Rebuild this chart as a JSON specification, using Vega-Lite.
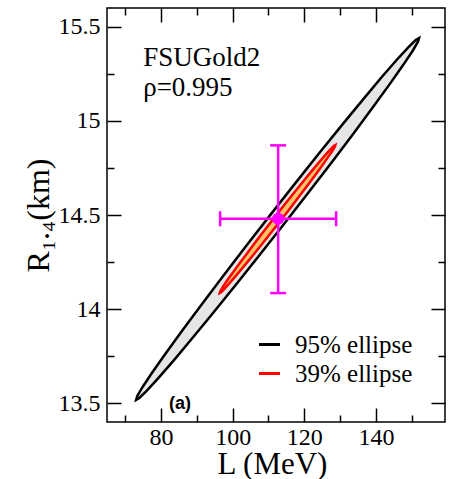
{
  "$schema": "https://vega.github.io/schema/vega-lite/v6.json",
  "width": 338,
  "height": 414,
  "autosize": {"type": "none"},
  "padding": {"left": 107, "top": 8, "right": 22, "bottom": 57},
  "config": {
    "view": {"stroke": "black", "strokeWidth": 1.5},
    "axis": {"domain": false, "grid": false, "tickColor": "black", "tickWidth": 1.5, "labelFont": "Liberation Serif", "labelFontSize": 24, "labelColor": "black", "titleFont": "Liberation Serif", "titleFontWeight": "normal", "titleColor": "black", "format": "~r"}
  },
  "datasets": {
    "e95": [
      {"o": 0, "L": 152.04, "R": 15.440, "s": "95% ellipse"},
      {"o": 1, "L": 151.75, "R": 15.421, "s": "95% ellipse"},
      {"o": 2, "L": 150.28, "R": 15.373, "s": "95% ellipse"},
      {"o": 3, "L": 147.65, "R": 15.298, "s": "95% ellipse"},
      {"o": 4, "L": 143.96, "R": 15.198, "s": "95% ellipse"},
      {"o": 5, "L": 139.31, "R": 15.076, "s": "95% ellipse"},
      {"o": 6, "L": 133.85, "R": 14.936, "s": "95% ellipse"},
      {"o": 7, "L": 127.74, "R": 14.782, "s": "95% ellipse"},
      {"o": 8, "L": 121.17, "R": 14.619, "s": "95% ellipse"},
      {"o": 9, "L": 114.34, "R": 14.452, "s": "95% ellipse"},
      {"o": 10, "L": 107.46, "R": 14.286, "s": "95% ellipse"},
      {"o": 11, "L": 100.72, "R": 14.125, "s": "95% ellipse"},
      {"o": 12, "L": 94.35, "R": 13.975, "s": "95% ellipse"},
      {"o": 13, "L": 88.53, "R": 13.841, "s": "95% ellipse"},
      {"o": 14, "L": 83.44, "R": 13.725, "s": "95% ellipse"},
      {"o": 15, "L": 79.23, "R": 13.633, "s": "95% ellipse"},
      {"o": 16, "L": 76.04, "R": 13.567, "s": "95% ellipse"},
      {"o": 17, "L": 73.95, "R": 13.528, "s": "95% ellipse"},
      {"o": 18, "L": 73.04, "R": 13.518, "s": "95% ellipse"},
      {"o": 19, "L": 73.33, "R": 13.537, "s": "95% ellipse"},
      {"o": 20, "L": 74.80, "R": 13.585, "s": "95% ellipse"},
      {"o": 21, "L": 77.43, "R": 13.660, "s": "95% ellipse"},
      {"o": 22, "L": 81.12, "R": 13.760, "s": "95% ellipse"},
      {"o": 23, "L": 85.77, "R": 13.882, "s": "95% ellipse"},
      {"o": 24, "L": 91.23, "R": 14.022, "s": "95% ellipse"},
      {"o": 25, "L": 97.34, "R": 14.176, "s": "95% ellipse"},
      {"o": 26, "L": 103.91, "R": 14.339, "s": "95% ellipse"},
      {"o": 27, "L": 110.74, "R": 14.506, "s": "95% ellipse"},
      {"o": 28, "L": 117.62, "R": 14.672, "s": "95% ellipse"},
      {"o": 29, "L": 124.36, "R": 14.833, "s": "95% ellipse"},
      {"o": 30, "L": 130.73, "R": 14.983, "s": "95% ellipse"},
      {"o": 31, "L": 136.55, "R": 15.117, "s": "95% ellipse"},
      {"o": 32, "L": 141.64, "R": 15.233, "s": "95% ellipse"},
      {"o": 33, "L": 145.85, "R": 15.325, "s": "95% ellipse"},
      {"o": 34, "L": 149.04, "R": 15.391, "s": "95% ellipse"},
      {"o": 35, "L": 151.13, "R": 15.430, "s": "95% ellipse"}
    ],
    "e39": [
      {"o": 0, "L": 128.68, "R": 14.872, "s": "39% ellipse"},
      {"o": 1, "L": 128.56, "R": 14.864, "s": "39% ellipse"},
      {"o": 2, "L": 127.96, "R": 14.844, "s": "39% ellipse"},
      {"o": 3, "L": 126.88, "R": 14.814, "s": "39% ellipse"},
      {"o": 4, "L": 125.37, "R": 14.773, "s": "39% ellipse"},
      {"o": 5, "L": 123.48, "R": 14.723, "s": "39% ellipse"},
      {"o": 6, "L": 121.25, "R": 14.666, "s": "39% ellipse"},
      {"o": 7, "L": 118.75, "R": 14.603, "s": "39% ellipse"},
      {"o": 8, "L": 116.07, "R": 14.536, "s": "39% ellipse"},
      {"o": 9, "L": 113.28, "R": 14.468, "s": "39% ellipse"},
      {"o": 10, "L": 110.46, "R": 14.400, "s": "39% ellipse"},
      {"o": 11, "L": 107.71, "R": 14.334, "s": "39% ellipse"},
      {"o": 12, "L": 105.11, "R": 14.273, "s": "39% ellipse"},
      {"o": 13, "L": 102.73, "R": 14.218, "s": "39% ellipse"},
      {"o": 14, "L": 100.65, "R": 14.171, "s": "39% ellipse"},
      {"o": 15, "L": 98.93, "R": 14.134, "s": "39% ellipse"},
      {"o": 16, "L": 97.63, "R": 14.106, "s": "39% ellipse"},
      {"o": 17, "L": 96.78, "R": 14.090, "s": "39% ellipse"},
      {"o": 18, "L": 96.40, "R": 14.086, "s": "39% ellipse"},
      {"o": 19, "L": 96.52, "R": 14.094, "s": "39% ellipse"},
      {"o": 20, "L": 97.13, "R": 14.114, "s": "39% ellipse"},
      {"o": 21, "L": 98.20, "R": 14.145, "s": "39% ellipse"},
      {"o": 22, "L": 99.71, "R": 14.185, "s": "39% ellipse"},
      {"o": 23, "L": 101.60, "R": 14.235, "s": "39% ellipse"},
      {"o": 24, "L": 103.84, "R": 14.292, "s": "39% ellipse"},
      {"o": 25, "L": 106.33, "R": 14.355, "s": "39% ellipse"},
      {"o": 26, "L": 109.01, "R": 14.422, "s": "39% ellipse"},
      {"o": 27, "L": 111.80, "R": 14.490, "s": "39% ellipse"},
      {"o": 28, "L": 114.62, "R": 14.558, "s": "39% ellipse"},
      {"o": 29, "L": 117.37, "R": 14.624, "s": "39% ellipse"},
      {"o": 30, "L": 119.97, "R": 14.685, "s": "39% ellipse"},
      {"o": 31, "L": 122.35, "R": 14.740, "s": "39% ellipse"},
      {"o": 32, "L": 124.43, "R": 14.787, "s": "39% ellipse"},
      {"o": 33, "L": 126.15, "R": 14.825, "s": "39% ellipse"},
      {"o": 34, "L": 127.45, "R": 14.852, "s": "39% ellipse"},
      {"o": 35, "L": 128.30, "R": 14.868, "s": "39% ellipse"}
    ],
    "pt": [{"L": 112.7, "R": 14.48, "Llo": 96.5, "Lhi": 128.9, "Rlo": 14.085, "Rhi": 14.87}],
    "hcaps": [{"L": 96.5, "R": 14.48}, {"L": 128.9, "R": 14.48}],
    "vcaps": [{"L": 112.7, "R": 14.085}, {"L": 112.7, "R": 14.87}],
    "notes": [{"L": 75.0, "R": 15.294, "t": "FSUGold2"}, {"L": 75.0, "R": 15.131, "t": "ρ=0.995"}],
    "panel": [{"L": 85.3, "R": 13.47, "t": "(a)"}]
  },
  "resolve": {"scale": {"x": "shared", "y": "shared"}, "axis": {"x": "independent", "y": "independent"}},
  "layer": [
    {
      "data": {"name": "e95"},
      "mark": {"type": "line", "interpolate": "linear-closed", "fill": "#e6e6e6", "strokeWidth": 2.5},
      "encoding": {
        "x": {"field": "L", "type": "quantitative", "scale": {"domain": [64.9, 159.3], "nice": false, "zero": false},
          "axis": {"orient": "bottom", "values": [80, 100, 120, 140], "tickSize": -14, "labelPadding": 17, "title": "L (MeV)", "titleFontSize": 31, "titleX": 165, "titleY": 51, "titleAlign": "center", "titleBaseline": "alphabetic"}},
        "y": {"field": "R", "type": "quantitative", "scale": {"domain": [13.4, 15.6], "nice": false, "zero": false},
          "axis": {"orient": "left", "values": [13.5, 14, 14.5, 15, 15.5], "tickSize": -14, "labelPadding": 21, "title": "R₁.₄(km)", "titleFontSize": 32, "titleX": -69, "titleY": 207, "titleAngle": -90, "titleAlign": "center", "titleBaseline": "middle"}},
        "stroke": {"field": "s", "type": "nominal", "scale": {"domain": ["95% ellipse", "39% ellipse"], "range": ["black", "red"]},
          "legend": {"orient": "none", "legendX": 150, "legendY": 324, "title": null, "symbolType": "stroke", "symbolSize": 441, "symbolStrokeWidth": 3, "labelFont": "Liberation Serif", "labelFontSize": 25, "labelColor": "black", "labelOffset": 13, "rowPadding": 3, "padding": 0}},
        "order": {"field": "o", "type": "quantitative"}
      }
    },
    {
      "data": {"name": "e39"},
      "mark": {"type": "line", "interpolate": "linear-closed", "fill": "#fcc46a", "strokeWidth": 2.5},
      "encoding": {
        "x": {"field": "L", "type": "quantitative", "scale": {"domain": [64.9, 159.3], "nice": false, "zero": false},
          "axis": {"orient": "top", "values": [80, 100, 120, 140], "tickSize": -14, "labels": false, "title": null}},
        "y": {"field": "R", "type": "quantitative", "scale": {"domain": [13.4, 15.6], "nice": false, "zero": false},
          "axis": {"orient": "right", "values": [13.5, 14, 14.5, 15, 15.5], "tickSize": -14, "labels": false, "title": null}},
        "stroke": {"field": "s", "type": "nominal", "scale": {"domain": ["95% ellipse", "39% ellipse"], "range": ["black", "red"]},
          "legend": {"orient": "none", "legendX": 150, "legendY": 324, "title": null, "symbolType": "stroke", "symbolSize": 441, "symbolStrokeWidth": 3, "labelFont": "Liberation Serif", "labelFontSize": 25, "labelColor": "black", "labelOffset": 13, "rowPadding": 3, "padding": 0}},
        "order": {"field": "o", "type": "quantitative"}
      }
    },
    {
      "data": {"name": "pt"},
      "mark": {"type": "rule", "color": "#ff00ff", "strokeWidth": 2.5},
      "encoding": {
        "x": {"field": "Llo", "type": "quantitative", "scale": {"domain": [64.9, 159.3], "nice": false, "zero": false},
          "axis": {"orient": "bottom", "values": [70, 90, 110, 130, 150], "tickSize": -7, "labels": false, "title": null}},
        "x2": {"field": "Lhi"},
        "y": {"field": "R", "type": "quantitative", "scale": {"domain": [13.4, 15.6], "nice": false, "zero": false},
          "axis": {"orient": "left", "values": [13.75, 14.25, 14.75, 15.25], "tickSize": -7, "labels": false, "title": null}}
      }
    },
    {
      "data": {"name": "pt"},
      "mark": {"type": "rule", "color": "#ff00ff", "strokeWidth": 2.5},
      "encoding": {
        "x": {"field": "L", "type": "quantitative", "scale": {"domain": [64.9, 159.3], "nice": false, "zero": false},
          "axis": {"orient": "top", "values": [70, 90, 110, 130, 150], "tickSize": -7, "labels": false, "title": null}},
        "y": {"field": "Rlo", "type": "quantitative", "scale": {"domain": [13.4, 15.6], "nice": false, "zero": false},
          "axis": {"orient": "right", "values": [13.75, 14.25, 14.75, 15.25], "tickSize": -7, "labels": false, "title": null}},
        "y2": {"field": "Rhi"}
      }
    },
    {
      "data": {"name": "hcaps"},
      "mark": {"type": "tick", "orient": "vertical", "size": 15, "thickness": 2.5, "color": "#ff00ff", "opacity": 1},
      "encoding": {
        "x": {"field": "L", "type": "quantitative", "scale": {"domain": [64.9, 159.3], "nice": false, "zero": false}, "axis": null},
        "y": {"field": "R", "type": "quantitative", "scale": {"domain": [13.4, 15.6], "nice": false, "zero": false}, "axis": null}
      }
    },
    {
      "data": {"name": "vcaps"},
      "mark": {"type": "tick", "orient": "horizontal", "size": 16, "thickness": 2.5, "color": "#ff00ff", "opacity": 1},
      "encoding": {
        "x": {"field": "L", "type": "quantitative", "scale": {"domain": [64.9, 159.3], "nice": false, "zero": false}, "axis": null},
        "y": {"field": "R", "type": "quantitative", "scale": {"domain": [13.4, 15.6], "nice": false, "zero": false}, "axis": null}
      }
    },
    {
      "data": {"name": "pt"},
      "mark": {"type": "point", "shape": "circle", "filled": true, "size": 150, "color": "#ff00ff", "opacity": 1},
      "encoding": {
        "x": {"field": "L", "type": "quantitative", "scale": {"domain": [64.9, 159.3], "nice": false, "zero": false}, "axis": null},
        "y": {"field": "R", "type": "quantitative", "scale": {"domain": [13.4, 15.6], "nice": false, "zero": false}, "axis": null}
      }
    },
    {
      "data": {"name": "notes"},
      "mark": {"type": "text", "align": "left", "baseline": "alphabetic", "font": "Liberation Serif", "fontSize": 27, "color": "black"},
      "encoding": {
        "x": {"field": "L", "type": "quantitative", "scale": {"domain": [64.9, 159.3], "nice": false, "zero": false}, "axis": null},
        "y": {"field": "R", "type": "quantitative", "scale": {"domain": [13.4, 15.6], "nice": false, "zero": false}, "axis": null},
        "text": {"field": "t"}
      }
    },
    {
      "data": {"name": "panel"},
      "mark": {"type": "text", "align": "center", "baseline": "alphabetic", "font": "Liberation Sans", "fontWeight": "bold", "fontSize": 18, "color": "black"},
      "encoding": {
        "x": {"field": "L", "type": "quantitative", "scale": {"domain": [64.9, 159.3], "nice": false, "zero": false}, "axis": null},
        "y": {"field": "R", "type": "quantitative", "scale": {"domain": [13.4, 15.6], "nice": false, "zero": false}, "axis": null},
        "text": {"field": "t"}
      }
    }
  ]
}
